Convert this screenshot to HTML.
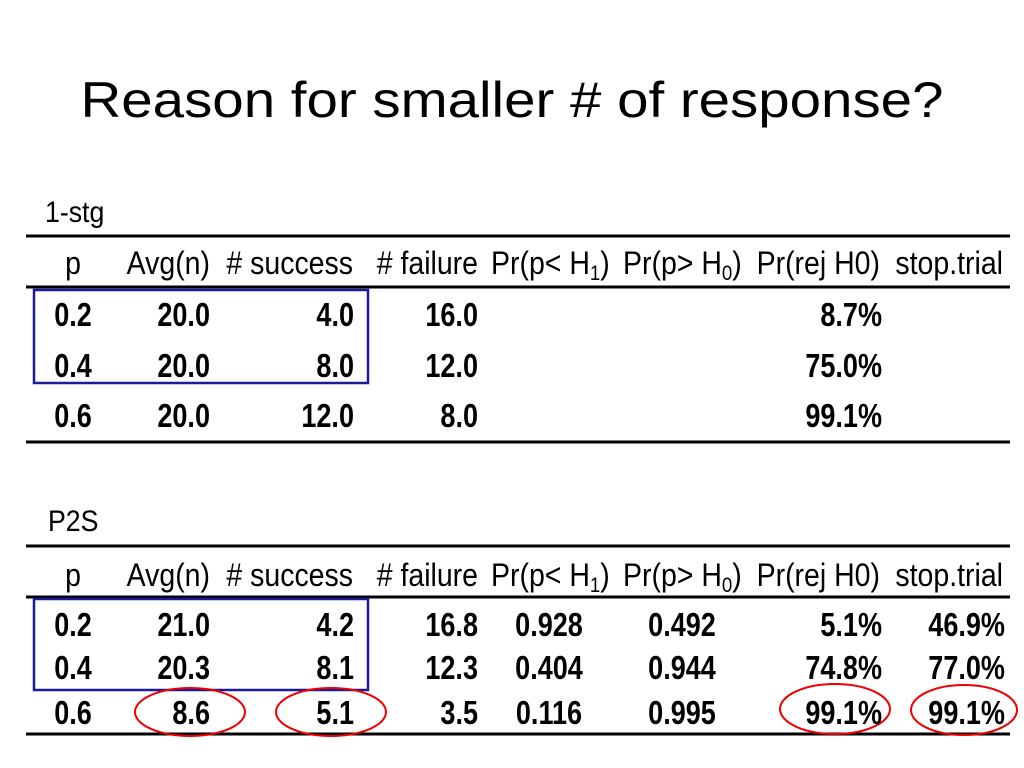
<!DOCTYPE html>
<html><head><meta charset="utf-8"><style>
body{margin:0;background:#fff;}
svg{display:block;font-family:"Liberation Sans",Arial,sans-serif;}
</style></head><body>
<svg id="s" width="1024" height="768" viewBox="0 0 1024 768">
<text x="512" y="117" text-anchor="middle" font-size="50" textLength="863" lengthAdjust="spacingAndGlyphs">Reason for smaller # of response?</text>
<line x1="26" y1="236" x2="1010" y2="236" stroke="#000" stroke-width="3"/>
<line x1="26" y1="287" x2="1010" y2="287" stroke="#000" stroke-width="3"/>
<line x1="26" y1="442" x2="1010" y2="442" stroke="#000" stroke-width="3"/>
<line x1="26" y1="546" x2="1010" y2="546" stroke="#000" stroke-width="3"/>
<line x1="26" y1="597" x2="1010" y2="597" stroke="#000" stroke-width="3"/>
<line x1="26" y1="734" x2="1010" y2="734" stroke="#000" stroke-width="3"/>
<rect x="34" y="290" width="334" height="93" fill="none" stroke="#1a1a9a" stroke-width="2.5"/>
<rect x="34" y="599" width="334" height="91" fill="none" stroke="#1a1a9a" stroke-width="2.5"/>
<ellipse cx="190" cy="712" rx="55" ry="24" fill="none" stroke="#e00" stroke-width="2"/>
<ellipse cx="331" cy="712" rx="55" ry="24" fill="none" stroke="#e00" stroke-width="2"/>
<ellipse cx="835" cy="709" rx="55" ry="25" fill="none" stroke="#e00" stroke-width="2"/>
<ellipse cx="964" cy="710" rx="53" ry="25" fill="none" stroke="#e00" stroke-width="2"/>
<g id="g" transform="scale(0.82,1)"></g>
<g id="h" transform="scale(0.89,1)"></g>
</svg>
<script>
const cols=[{x:73,a:"middle"},{x:210,a:"end"},{x:354,a:"end"},{x:478,a:"end"},{x:549,a:"middle"},{x:682,a:"middle"},{x:882,a:"end"},{x:1005,a:"end"}];
const t1rows=[["0.2","20.0","4.0","16.0","","","8.7%",""],["0.4","20.0","8.0","12.0","","","75.0%",""],["0.6","20.0","12.0","8.0","","","99.1%",""]];
const t2rows=[["0.2","21.0","4.2","16.8","0.928","0.492","5.1%","46.9%"],["0.4","20.3","8.1","12.3","0.404","0.944","74.8%","77.0%"],["0.6","8.6","5.1","3.5","0.116","0.995","99.1%","99.1%"]];
const g=document.getElementById('g');const h=document.getElementById('h');const NS="http://www.w3.org/2000/svg";
function txt(x,y,s,a,bold,size,name,hdr){const S=hdr?0.89:0.82;const e=document.createElementNS(NS,'text');e.setAttribute('x',x/S);e.setAttribute('y',y);e.setAttribute('text-anchor',a);e.setAttribute('font-size',size);if(bold)e.setAttribute('font-weight','bold');e.textContent=s;


(hdr?h:g).appendChild(e);return e;}
function sub(e,base,sb,post){e.textContent=base;const ts=document.createElementNS(NS,'tspan');ts.setAttribute('font-size','21');ts.setAttribute('dy','6');ts.textContent=sb;e.appendChild(ts);const t2=document.createElementNS(NS,'tspan');t2.setAttribute('dy','-6');t2.textContent=post;e.appendChild(t2);}
function header(y,p){
 txt(73,y,"p","middle",false,32,p+"-header-p",1);
 txt(210,y,"Avg(n)","end",false,32,p+"-header-avg-n",1);
 txt(353,y,"# success","end",false,32,p+"-header-success",1);
 txt(478,y,"# failure","end",false,32,p+"-header-failure",1);
 const a=txt(491,y,"","start",false,32,p+"-header-pr-h1",1);sub(a,"Pr(p< H","1",")");
 const b=txt(623,y,"","start",false,32,p+"-header-pr-h0",1);sub(b,"Pr(p> H","0",")");
 txt(880,y,"Pr(rej H0)","end",false,32,p+"-header-rej",1);
 txt(1003,y,"stop.trial","end",false,32,p+"-header-stop",1);
}
txt(45,222,"1-stg","start",false,30,"table1-label",1);
txt(48,531,"P2S","start",false,30,"table2-label",1);
header(274,"table1");header(586,"table2");
function rows(data,ys,p){data.forEach((r,i)=>r.forEach((v,j)=>{if(v)txt(cols[j].x,ys[i],v,cols[j].a,true,33,p+"-r"+(i+1)+"-c"+(j+1),0);}));}
rows(t1rows,[326,377,427],"table1");
rows(t2rows,[636,679,724],"table2");
</script>
</body></html>
